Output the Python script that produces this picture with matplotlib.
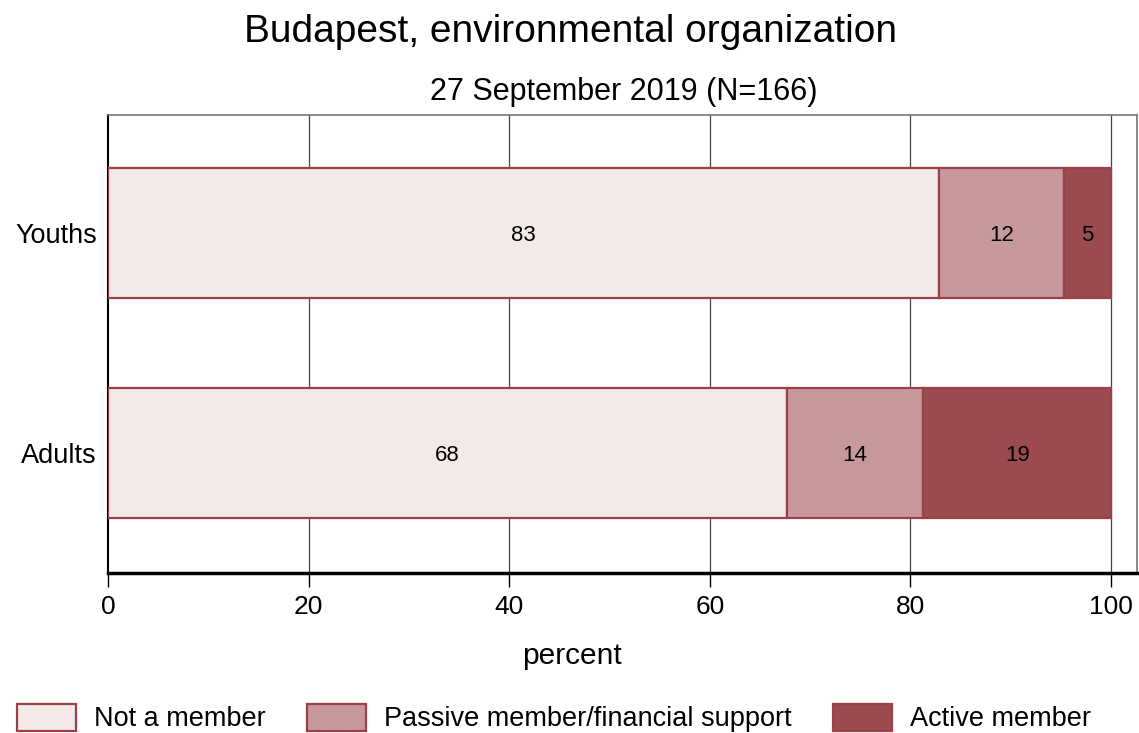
import matplotlib
matplotlib.use("Agg")
import matplotlib.pyplot as plt
import matplotlib.transforms as mtransforms
from matplotlib.patches import Patch
import numpy as np

plt.rcParams['font.family'] = ['Liberation Sans', 'DejaVu Sans']

groups = ["Youths", "Adults"]
series = ["Not a member", "Passive member/financial support", "Active member"]
not_member = [82.9, 67.7]
passive = [12.4, 13.6]
active = [4.7, 18.7]
labels_shown = [["83", "12", "5"], ["68", "14", "19"]]
xticks = [0, 20, 40, 60, 80, 100]

fills = ["#F3E9E9", "#C8999C", "#9B4A50"]
edge = "#9B3F48"

fig = plt.figure(figsize=(11.39, 7.33), dpi=100)
ax = fig.add_axes([108/1139, 1-573/733, (1137-108)/1139, (573-115)/733])

ypos = np.array([1, 0])
vals = [not_member, passive, active]
left = np.zeros(2)
for k, v in enumerate(vals):
    v = np.array(v)
    ax.barh(ypos, v, left=left, height=0.59, color=fills[k], edgecolor=edge,
            linewidth=1.6, zorder=3, label=series[k])
    for i in range(2):
        ax.text(left[i] + v[i]/2, ypos[i] - 0.01, labels_shown[i][k], ha='center', va='center',
                fontsize=16, color='black', zorder=4)
    left = left + v

ax.set_xlim(0, 102.6)
ax.set_ylim(-0.545, 1.536)
ax.set_yticks(ypos)
ax.set_yticklabels(groups, fontsize=19.5)
offset = mtransforms.ScaledTranslation(0, -3/100, fig.dpi_scale_trans)
for lbl in ax.get_yticklabels():
    lbl.set_transform(lbl.get_transform() + offset)
ax.set_xticks(xticks)
ax.set_xticklabels([str(t) for t in xticks], fontsize=19)
ax.tick_params(axis='y', length=0, pad=8)
ax.tick_params(axis='x', length=10, width=1, pad=6)
for t in xticks[1:]:
    ax.axvline(t, color='#444444', linewidth=0.9, zorder=1)
for s in ['top', 'right']:
    ax.spines[s].set_color('#777777')
    ax.spines[s].set_linewidth(1.2)
ax.spines['left'].set_color('black')
ax.spines['left'].set_linewidth(1.5)
ax.spines['bottom'].set_color('black')
ax.spines['bottom'].set_linewidth(2.5)

fig.text(572/1139, 1-656/733, "percent", ha='center', va='center', fontsize=21.5)
fig.text(571/1139, 1-32/733, "Budapest, environmental organization", ha='center', va='center', fontsize=28)
fig.text(624/1139, 1-92/733, "27 September 2019 (N=166)", ha='center', va='center', fontsize=22)

handles = [Patch(facecolor=fills[k], edgecolor=edge, linewidth=1.6) for k in range(3)]
fig.legend(handles, series, loc='center', bbox_to_anchor=(554/1139, 1-718/733), ncol=3,
           frameon=False, fontsize=19.5, handlelength=2.2, handleheight=1.15,
           columnspacing=1.5, handletextpad=0.67, borderpad=0, borderaxespad=0)

fig.savefig("out.png", dpi=100)
